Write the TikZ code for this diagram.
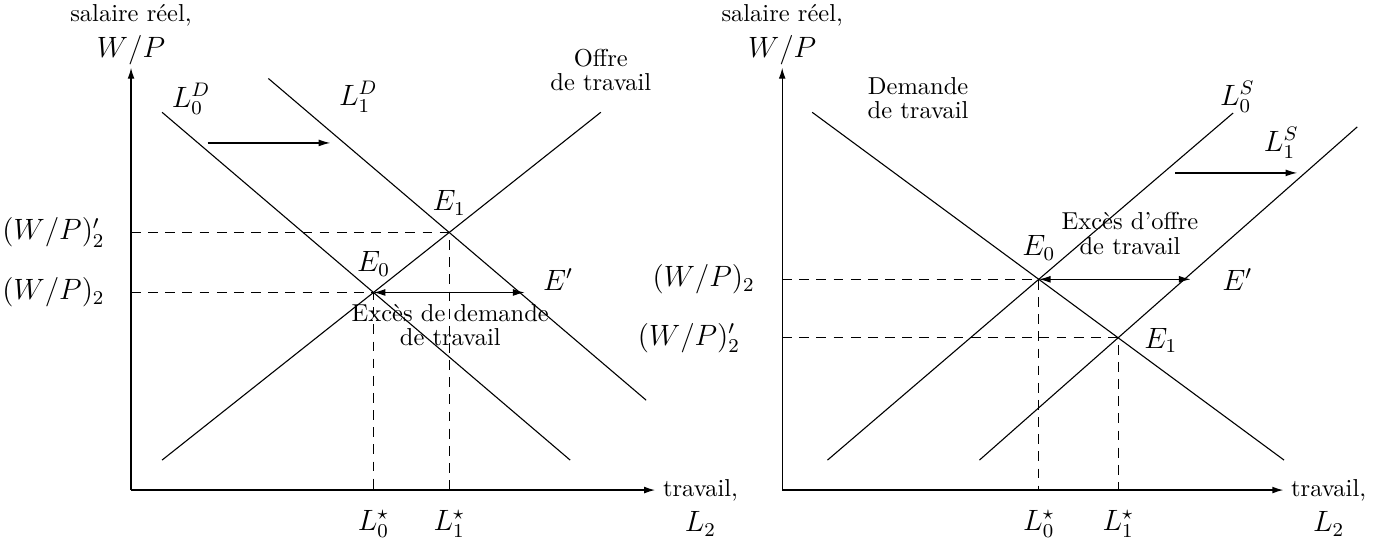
\documentclass[tikz,border=0pt]{standalone}
\usepackage{amsmath,amssymb}
\usepackage{fontspec}
\usepackage{tikz}
\usetikzlibrary{arrows.meta, positioning, calc, intersections}

\begin{document}
\begin{tikzpicture}[
  curve/.style={line width=0.45pt},
  axis/.style={-{Latex[length=4.5pt,width=2.8pt]}, line width=0.55pt},
  guide/.style={dash pattern=on 4pt off 3pt, line width=0.45pt},
  shiftarr/.style={-{Latex[length=4.8pt,width=2.8pt]}, line width=0.5pt},
  excess/.style={{Latex[length=4.8pt,width=2.8pt]}-{Latex[length=4.8pt,width=2.8pt]}, line width=0.5pt},
  lab/.style={inner sep=1pt, font=\large},
  txt/.style={inner sep=1pt, align=center, font=\fontsize{10pt}{10pt}\selectfont},
]
\useasboundingbox (0,0) rectangle (19.77,7.763);

\begin{scope}[shift={(1.88,0.732)}]
\coordinate (oL) at (0,0);
\coordinate (ytipL) at (0,6.06);
\coordinate (xtipL) at (7.52,0);
\draw[axis] (oL) -- (ytipL);
\draw[axis] (oL) -- (xtipL);
\node[lab, above=0pt of ytipL] (wpL) {$W/P$};
\node[txt, above=1.5pt of wpL] (salL) {salaire réel,};
\node[txt, right=2pt of xtipL] (travL) {travail,};
\node[lab, below=2pt of travL] (l2L) {$L_2$};

\draw[curve, name path=d0L] (0.445,5.42) -- (6.30,0.43);
\draw[curve, name path=d1L] (1.97,5.905) -- (7.39,1.29);
\draw[curve, name path=sL] (0.445,0.43) -- (6.74,5.42);
\path[name intersections={of=d0L and sL, by=E0L}];
\path[name intersections={of=d1L and sL, by=E1L}];
\coordinate (yE0L) at (oL |- E0L);
\coordinate (yE1L) at (oL |- E1L);
\coordinate (xE0L) at (E0L |- oL);
\coordinate (xE1L) at (E1L |- oL);

\draw[guide] (yE1L) -- (E1L) -- (xE1L);
\draw[guide] (yE0L) -- (E0L) -- (xE0L);
\node[lab, left=9.6pt of yE1L] {$(W/P)'_2$};
\node[lab, left=9.6pt of yE0L] {$(W/P)_2$};
\node[lab, below=7pt of xE0L] {$L_0^\star$};
\node[lab, below=7pt of xE1L] {$L_1^\star$};

\node[lab] (ld0) at (0.86,5.61) {$L_0^D$};
\node[lab] (ld1) at (3.26,5.64) {$L_1^D$};
\node[txt] (offre) at (6.74,6.03) {Offre\\de travail};
\draw[shiftarr] (1.10,4.98) -- (2.86,4.98);

\node[lab, above=5.5pt of E0L] {$E_0$};
\node[lab, above=5.8pt of E1L] {$E_1$};
\coordinate (epL) at ($(E0L)+(2.17,0)$);
\draw[excess] (E0L) -- (epL);
\node[lab, right=6.3pt of epL, yshift=5.3pt] {$E'$};
\node[txt] (exdL) at (4.58,2.37) {Excès de demande\\de travail};
\end{scope}

\begin{scope}[shift={(11.222,0.732)}]
\coordinate (oR) at (0,0);
\coordinate (ytipR) at (0,6.06);
\coordinate (xtipR) at (7.19,0);
\draw[axis] (oR) -- (ytipR);
\draw[axis] (oR) -- (xtipR);
\node[lab, above=0pt of ytipR] (wpR) {$W/P$};
\node[txt, above=1.5pt of wpR] (salR) {salaire réel,};
\node[txt, right=2pt of xtipR] (travR) {travail,};
\node[lab, below=2pt of travR] (l2R) {$L_2$};

\draw[curve, name path=dR] (0.43,5.42) -- (7.20,0.43);
\draw[curve, name path=s0R] (0.65,0.43) -- (6.47,5.41);
\draw[curve, name path=s1R] (2.83,0.43) -- (8.25,5.21);
\path[name intersections={of=dR and s0R, by=E0R}];
\path[name intersections={of=dR and s1R, by=E1R}];
\coordinate (yE0R) at (oR |- E0R);
\coordinate (yE1R) at (oR |- E1R);
\coordinate (xE0R) at (E0R |- oR);
\coordinate (xE1R) at (E1R |- oR);

\draw[guide] (yE0R) -- (E0R) -- (xE0R);
\draw[guide] (yE1R) -- (E1R) -- (xE1R);
\node[lab, left=10pt of yE0R] {$(W/P)_2$};
\node[lab, left=16pt of yE1R] {$(W/P)'_2$};
\node[lab, below=7pt of xE0R] {$L_0^\star$};
\node[lab, below=7pt of xE1R] {$L_1^\star$};

\node[txt] (dem) at (1.95,5.62) {Demande\\de travail};
\node[lab] (ls0) at (6.53,5.64) {$L_0^S$};
\node[lab] (ls1) at (7.16,4.98) {$L_1^S$};
\draw[shiftarr] (5.64,4.55) -- (7.39,4.55);

\node[lab, above=6.6pt of E0R] {$E_0$};
\node[lab, right=9.5pt of E1R, yshift=-1pt] {$E_1$};
\coordinate (epR) at ($(E0R)+(2.18,0)$);
\draw[excess] (E0R) -- (epR);
\node[lab, right=11.7pt of epR] {$E'$};
\node[txt] (exoR) at (4.99,3.68) {Excès d’offre\\de travail};
\end{scope}
\end{tikzpicture}
\end{document}
